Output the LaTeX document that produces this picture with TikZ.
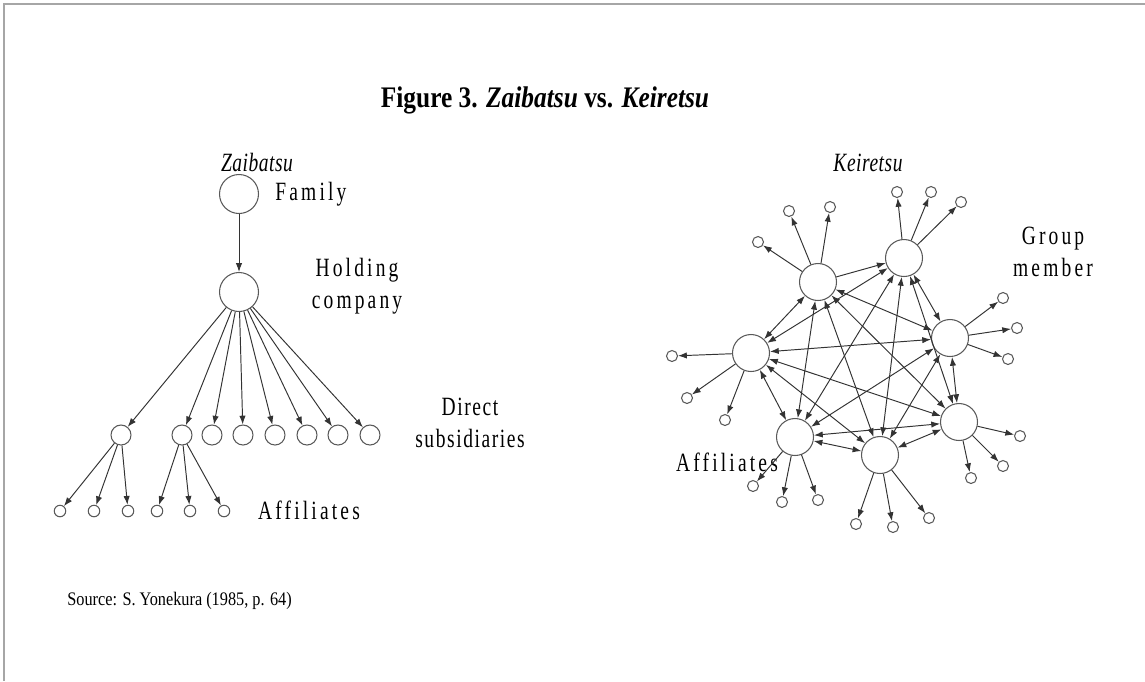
\documentclass[tikz,border=0pt]{standalone}
\usepackage{fontspec}
\setmainfont{Liberation Serif}[FakeStretch=0.85]
\newfontfamily\labelfont{Liberation Serif}[FakeStretch=0.74,LetterSpace=12]
\newfontfamily\headfont{Liberation Serif}[FakeStretch=0.74,LetterSpace=2]
\usetikzlibrary{positioning,shapes,arrows.meta}

\tikzset{
    member/.style={circle, draw=black!65, line width=0.6pt, minimum size=0.74cm, inner sep=0pt},
    subsid/.style={circle, draw=black!65, line width=0.6pt, minimum size=0.40cm, inner sep=0pt},
    affil/.style={circle, draw=black!65, line width=0.6pt, minimum size=0.23cm, inner sep=0pt},
    link/.style={draw=black!80, line width=0.55pt, -{Latex[length=5pt,width=3.6pt]}},
    mutual/.style={link, {Latex[length=5pt,width=3.6pt]}-{Latex[length=5pt,width=3.6pt]}},
    caption/.style={font=\labelfont\fontsize{15}{18}\selectfont, align=center, inner sep=0pt},
    heading/.style={font=\headfont\itshape\fontsize{15}{18}\selectfont, inner sep=0pt}
}

\begin{document}
\begin{tikzpicture}[x=0.02cm, y=-0.02cm]
    \useasboundingbox (0,0) rectangle (1145,681);
    % page edge
    \draw[black!35, line width=1pt] (4,681) -- (4,4) -- (1145,4);

    \node[font=\bfseries\fontsize{17}{20}\selectfont] (title) at (545,100)
        {Figure 3. \textit{Zaibatsu} vs. \textit{Keiretsu}};
    \node[anchor=west, inner sep=0pt, font=\fontsize{10.9}{14}\selectfont] (source) at (67,601)
        {Source: S. Yonekura (1985, p. 64)};

    % Zaibatsu
    \node[heading] (ztitle) at (257,162) {Zaibatsu};
    \node[member, minimum size=0.78cm] (family) at (239,194) {};
    \node[member, minimum size=0.78cm] (holding) at (239,292) {};
    \node[caption, anchor=west] (lfamily) at (275,194) {Family};
    \node[caption] (lholding) at (357,286) {Holding\\company};
    \node[caption, font=\labelfont\fontsize{15}{18}\selectfont\addfontfeature{LetterSpace=6}] (ldirect) at (470,423) {Direct\\subsidiaries};
    \node[caption] (lzaff) at (309,510) {Affiliates};

    \draw[link] (family) -- (holding);
    \foreach \i/\x in {1/121, 2/182, 3/212, 4/243, 5/275, 6/307, 7/338, 8/370} {
        \node[subsid] (s\i) at (\x,435) {};
        \draw[link] (holding) -- (s\i);
    }
    \foreach \i/\x/\p in {1/60/1, 2/94/1, 3/128/1, 4/157/2, 5/190/2, 6/224/2} {
        \node[affil] (za\i) at (\x,511) {};
        \draw[link] (s\p) -- (za\i);
    }

    % Keiretsu
    \node[heading] (ktitle) at (868,163) {Keiretsu};
    \node[member] (ka) at (818,282) {};
    \node[member] (kb) at (904,258) {};
    \node[member] (kc) at (950,338) {};
    \node[member] (kd) at (751,353) {};
    \node[member] (ke) at (959,422) {};
    \node[member] (kf) at (795,437) {};
    \node[member] (kg) at (880,455) {};
    \node[caption] (lgroup) at (1053,252) {Group\\member};
    \node[caption] (lkaff) at (727,462) {Affiliates};

    \draw[link] (ka) -- (kb);
    \foreach \u/\v in {ka/kc, ka/kd, ka/ke, ka/kf, ka/kg,
                       kb/kc, kb/kd, kb/ke, kb/kf, kb/kg,
                       kc/kd, kc/ke, kc/kf, kc/kg,
                       kd/ke, kd/kf, kd/kg,
                       ke/kf, ke/kg, kf/kg}
        \draw[mutual] (\u) -- (\v);

    \foreach \p/\x/\y/\n in {ka/758/242/1, ka/789/211/2, ka/830/207/3,
                             kb/897/192/1, kb/931/192/2, kb/961/202/3,
                             kc/1003/298/1, kc/1017/328/2, kc/1008/359/3,
                             kd/672/356/1, kd/687/398/2, kd/725/420/3,
                             ke/1020/436/1, ke/1003/466/2, ke/971/478/3,
                             kf/753/486/1, kf/782/502/2, kf/818/500/3,
                             kg/856/524/1, kg/893/527/2, kg/929/518/3} {
        \node[affil, minimum size=0.22cm] (\p\n) at (\x,\y) {};
        \draw[link] (\p) -- (\p\n);
    }
\end{tikzpicture}
\end{document}
